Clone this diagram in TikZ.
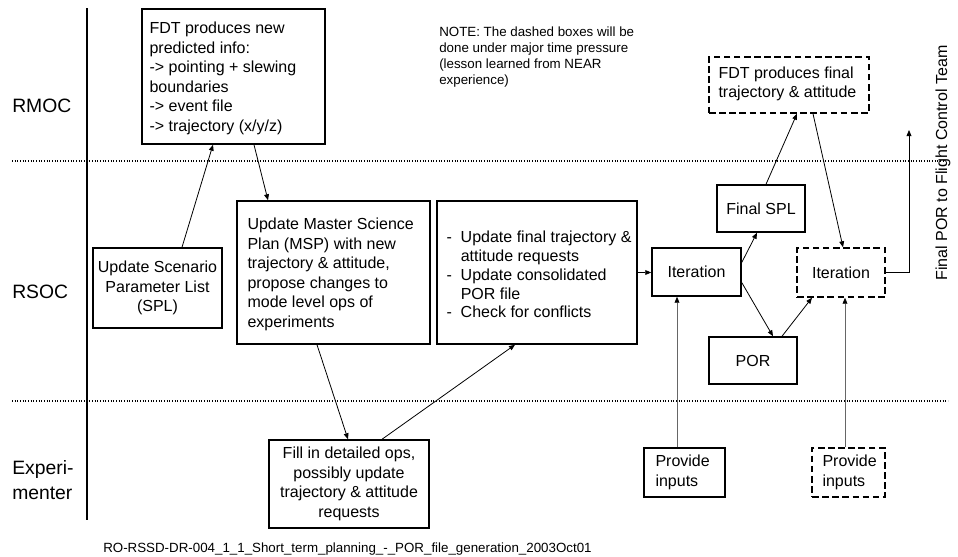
\documentclass[tikz,border=0pt]{standalone}
\usepackage{fontspec}
\setmainfont{Liberation Sans}
\usetikzlibrary{arrows.meta,calc}
\def\u{0.75pt}
\begin{document}
\begin{tikzpicture}[x=0.75pt,y=-0.75pt,
  boxfont/.style={font=\fontsize{12}{14.6}\selectfont},
  box/.style={draw, line width=1.1pt, inner sep=0pt},
  dbox/.style={box, dash pattern=on 5pt off 2.6pt},
  txt/.style={boxfont, inner sep=0pt, align=left, anchor=west},
  ctxt/.style={boxfont, align=center},
  lane/.style={font=\fontsize{14.5}{18.75}\selectfont, inner sep=0pt, anchor=west, align=left},
  arr/.style={line width=0.6pt, -{Triangle[length=4.5pt,width=3.6pt]}},
  garr/.style={line width=0.6pt, draw=black!60, -{Triangle[length=4.5pt,width=3.6pt,color=black]}},
  sepline/.style={line width=0.9pt, dash pattern=on 0.8pt off 1.2pt},
]
\useasboundingbox (0,0) rectangle (958,557);

% swim lanes
\draw[line width=1.1pt] (87,8) -- (87,520);
\draw[sepline] (12,161) -- (945,161);
\draw[sepline] (12,401) -- (948,401);
\node[lane] (rmoc) at (12,106) {RMOC};
\node[lane] (rsoc) at (12,292) {RSOC};
\node[lane] (expm) at (12,480.5) {Experi-\\menter};

% note
\node[anchor=north west, inner sep=0pt, align=left, font=\fontsize{10}{12}\selectfont] (note) at (439,26.7)
  {NOTE: The dashed boxes will be\\done under major time pressure\\(lesson learned from NEAR\\experience)};

% boxes
\node[box, minimum width=183*\u, minimum height=135*\u] (fdt) at (233.5,76.5) {};
\node[txt] (fdtT) at ([xshift=8*\u, yshift=-2*\u]fdt.west)
  {FDT produces new\\predicted info:\\-> pointing + slewing\\boundaries\\-> event file\\-> trajectory (x/y/z)};

\node[box, ctxt, minimum width=129*\u, minimum height=80*\u] (spl) at (157.5,288)
  {Update Scenario\\Parameter List\\(SPL)};

\node[box, minimum width=193*\u, minimum height=143*\u] (msp) at (333.5,272.5) {};
\node[txt] (mspT) at ([xshift=11*\u, yshift=-2*\u]msp.west)
  {Update Master Science\\Plan (MSP) with new\\trajectory \& attitude,\\propose changes to\\mode level ops of\\experiments};

\node[box, minimum width=200*\u, minimum height=143*\u] (upd) at (537,272.5) {};
\node[txt, font=\fontsize{12}{14.1}\selectfont] (updT) at ([xshift=10*\u, yshift=-2*\u]upd.west)
  {- \ Update final trajectory \&\\\phantom{- \ }attitude requests\\- \ Update consolidated\\\phantom{- \ }POR file\\- \ Check for conflicts};

\node[box, ctxt, minimum width=89*\u, minimum height=48*\u] (it1) at (696.5,272) {Iteration};
\node[box, ctxt, minimum width=88*\u, minimum height=47*\u] (fspl) at (761,208.5) {Final SPL};
\node[dbox, minimum width=160*\u, minimum height=56*\u] (fdtf) at (789,85) {};
\node[txt] (fdtfT) at ([xshift=10*\u, yshift=1*\u]fdtf.west) {FDT produces final\\trajectory \& attitude};
\node[dbox, ctxt, minimum width=88*\u, minimum height=49*\u] (it2) at (841,272.5) {Iteration};
\node[box, ctxt, minimum width=88*\u, minimum height=47*\u] (por) at (753,360.5) {POR};

\node[box, minimum width=81*\u, minimum height=49*\u] (prov1) at (684.5,472.5) {};
\node[txt] (prov1T) at ([xshift=12*\u]prov1.west) {Provide\\inputs};
\node[dbox, minimum width=73*\u, minimum height=49*\u] (prov2) at (848.5,472.5) {};
\node[txt] (prov2T) at ([xshift=11*\u]prov2.west) {Provide\\inputs};

\node[box, ctxt, minimum width=160*\u, minimum height=88*\u] (fill) at (349,484)
  {Fill in detailed ops,\\possibly update\\trajectory \& attitude\\requests};

% rotated caption and footer
\node[rotate=90, inner sep=0pt, font=\fontsize{12}{14}\selectfont] (fpor) at (943,163) {Final POR to Flight Control Team};
\node[anchor=base west, inner sep=0pt, font=\fontsize{10}{12}\selectfont] (foot) at (103,552.8)
  {RO-RSSD-DR-004\_1\_1\_Short\_term\_planning\_-\_POR\_file\_generation\_2003Oct01};

% connectors
\coordinate (out) at (909,130);
\draw[arr] ([xshift=24.5*\u]spl.north) -- ([xshift=-20.5*\u]fdt.south);
\draw[arr] ([xshift=20.5*\u]fdt.south) -- ([xshift=-65.5*\u]msp.north);
\draw[arr] ([xshift=-16.5*\u]msp.south) -- ([xshift=-1*\u]fill.north);
\draw[arr] ([xshift=33*\u]fill.north) -- ([xshift=-22*\u]upd.south);
\draw[arr] (upd.east) -- (upd.east -| it1.west);
\draw[arr] ([yshift=9.5*\u]it1.east) -- ([xshift=-4*\u]fspl.south);
\draw[arr] ([xshift=5*\u]fspl.north) -- ([xshift=8*\u]fdtf.south);
\draw[arr] ([xshift=24*\u]fdtf.south) -- ([xshift=2*\u]it2.north);
\draw[arr] ([yshift=-10.5*\u]it1.east) -- ([xshift=20*\u]por.north);
\draw[arr] ([xshift=29*\u]por.north) -- ([xshift=-29*\u]it2.south);
\draw[garr] ([xshift=-7.5*\u]prov1.north) -- ([xshift=-19.5*\u]it1.south);
\draw[garr] ([xshift=-3.5*\u]prov2.north) -- ([xshift=4*\u]it2.south);
\draw[arr] (it2.east) -| (out);
\end{tikzpicture}
\end{document}
